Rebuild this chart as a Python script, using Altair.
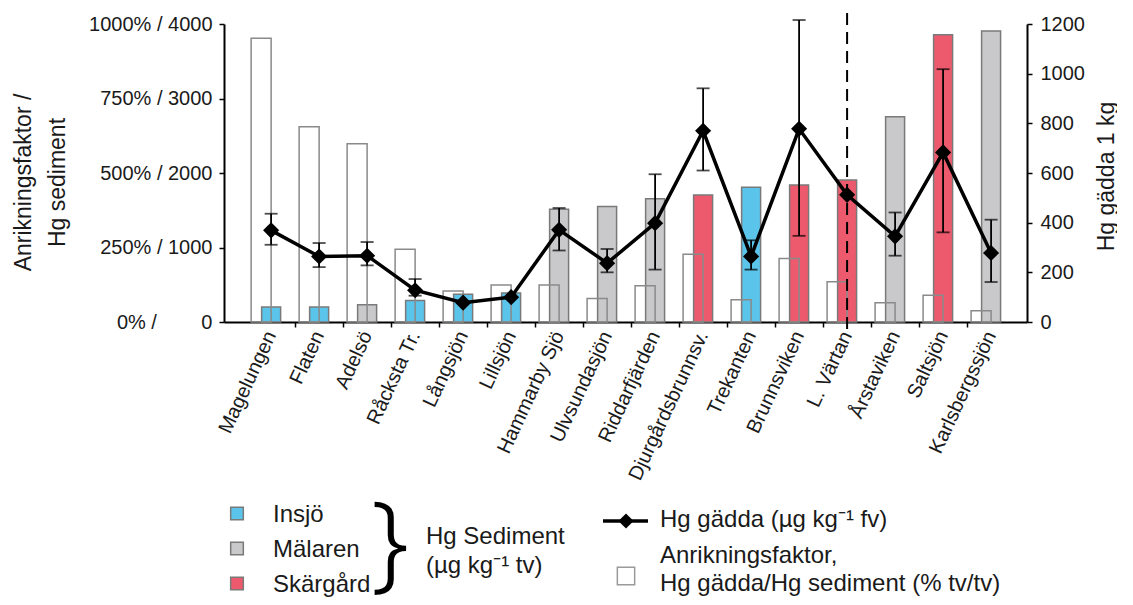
import altair as alt
import pandas as pd

# ---------------- data ----------------
sites = ["Magelungen", "Flaten", "Adelsö", "Råcksta Tr.", "Långsjön", "Lillsjön",
         "Hammarby Sjö", "Ulvsundasjön", "Riddarfjärden", "Djurgårdsbrunnsv.",
         "Trekanten", "Brunnsviken", "L. Värtan", "Årstaviken", "Saltsjön",
         "Karlsbergssjön"]
groups = ["Insjö", "Insjö", "Mälaren", "Insjö", "Insjö", "Insjö",
          "Mälaren", "Mälaren", "Mälaren", "Skärgård",
          "Insjö", "Skärgård", "Skärgård", "Mälaren", "Skärgård",
          "Mälaren"]
# Hg sediment (µg/kg tv), left axis 0-4000
sediment = [200, 200, 230, 288, 372, 390, 1515, 1550, 1655, 1705,
            1810, 1840, 1905, 2755, 3855, 3905]
# Anrikningsfaktor (%), left axis 0-1000 %
enrich_pct = [952, 655, 598, 244, 104, 124, 124, 79, 122, 227,
              75, 213, 135, 65, 90, 38]
# Hg gädda (µg/kg fv), right axis 0-1200
gadda = [369, 264, 267, 128, 78, 100, 371, 237, 398, 770,
         264, 778, 512, 345, 683, 278]
err_lo = [311, 221, 228, 106, None, None, 288, 200, 211, 610,
          211, 347, None, 267, 361, 161]
err_hi = [436, 318, 322, 173, None, None, 459, 294, 595, 941,
          329, 1216, None, 441, 1018, 412]

group_order = ["Insjö", "Mälaren", "Skärgård"]
group_colors = ["#5BC4EB", "#C9C9CB", "#EE5A6D"]

left_tick_values = [0, 1000, 2000, 3000, 4000]
left_tick_labels = ["0% /\u00a0\u00a0\u00a0\u00a0\u00a0\u00a0\u00a0\u00a00",
                    "250% / 1000", "500% / 2000", "750% / 3000", "1000% / 4000"]
right_tick_values = [0, 200, 400, 600, 800, 1000, 1200]
divider_site = "L. Värtan"

left_title = ["Anrikningsfaktor /", "Hg sediment"]
right_title = "Hg gädda 1 kg"
legend_group_title = ["Hg Sediment", "(µg kg\u207b\u00b9 tv)"]
legend_line_label = "Hg gädda (µg kg\u207b\u00b9 fv)"
legend_enrich_label = ["Anrikningsfaktor,", "Hg gädda/Hg sediment (% tv/tv)"]

df = pd.DataFrame({
    "site": sites, "group": groups, "sediment": sediment,
    "pct": enrich_pct, "gadda": gadda, "lo": err_lo, "hi": err_hi,
})

# ---------------- layout ----------------
W, H = 803, 298
FONT = "Liberation Sans"
TXT = "#1a1a1a"

label_expr = " : ".join(
    f"datum.value == {v} ? '{t}'" for v, t in zip(left_tick_values, left_tick_labels)
) + " : ''"

xscale = alt.Scale(domain=sites, paddingInner=0, paddingOuter=0.365, align=0.66)
xenc = alt.X("site:N", sort=sites, scale=xscale, title=None,
             axis=alt.Axis(labelAngle=295, labelAlign="right", labelBaseline="middle",
                           labelFontSize=20, labelPadding=5, tickSize=5,
                           bandPosition=0,
                           tickOpacity={"condition": {"test": f"datum.value == '{sites[0]}'", "value": 0}, "value": 1}))

yleft_scale = alt.Scale(domain=[0, 4000], nice=False, zero=True)

colored = alt.Chart(df).mark_bar(width=19, stroke="#7a7a7a", strokeWidth=1.5).encode(
    x=xenc,
    y=alt.Y("sediment:Q", scale=yleft_scale,
            axis=alt.Axis(values=left_tick_values, labelExpr=label_expr, labelFontSize=20,
                          labelPadding=7, tickSize=5, grid=False,
                          title=left_title, titleFontSize=23, titleFontWeight="normal",
                          titleLineHeight=34, titleAngle=270, titleBaseline="middle",
                          titleAlign="center", titleX=-201, titleY=158)),
    color=alt.Color("group:N", scale=alt.Scale(domain=group_order, range=group_colors), legend=None),
)

white = alt.Chart(df).transform_calculate(pct_scaled="datum.pct * 4").mark_bar(
    width=20, xOffset=-10, fill="white", fillOpacity=0, stroke="#8a8a8a", strokeWidth=1.5
).encode(
    x=alt.X("site:N", sort=sites, scale=xscale),
    y=alt.Y("pct_scaled:Q", scale=yleft_scale),
)

bars = alt.layer(colored, white)

yright_scale = alt.Scale(domain=[0, 1200], nice=False, zero=True)
yright_axis = alt.Axis(orient="right", values=right_tick_values, format="d", labelFontSize=20,
                       labelPadding=8, tickSize=5, grid=False,
                       title=right_title, titleFontSize=23, titleFontWeight="normal",
                       titleAngle=270, titleBaseline="middle", titleAlign="center",
                       titleX=79, titleY=152)

divider = alt.Chart(df).transform_filter(f"datum.site == '{divider_site}'").mark_rule(
    color="black", strokeWidth=2, strokeDash=[12, 7]
).encode(x=alt.X("site:N", sort=sites, scale=xscale), y=alt.value(-11), y2=alt.value(305))

err_base = alt.Chart(df).transform_filter("isValid(datum.lo)")
err_rule = err_base.mark_rule(color="black", strokeWidth=1.8).encode(
    x=alt.X("site:N", sort=sites, scale=xscale),
    y=alt.Y("lo:Q", scale=yright_scale, axis=yright_axis),
    y2="hi:Q",
)
cap_lo = err_base.mark_tick(color="black", thickness=1.8, size=13).encode(
    x=alt.X("site:N", sort=sites, scale=xscale), y=alt.Y("lo:Q", scale=yright_scale))
cap_hi = err_base.mark_tick(color="black", thickness=1.8, size=13).encode(
    x=alt.X("site:N", sort=sites, scale=xscale), y=alt.Y("hi:Q", scale=yright_scale))
line = alt.Chart(df).mark_line(color="black", strokeWidth=3.5).encode(
    x=alt.X("site:N", sort=sites, scale=xscale), y=alt.Y("gadda:Q", scale=yright_scale))
pts = alt.Chart(df).mark_point(shape="diamond", filled=True, size=260, color="black", opacity=1).encode(
    x=alt.X("site:N", sort=sites, scale=xscale), y=alt.Y("gadda:Q", scale=yright_scale))

right_layer = alt.layer(divider, err_rule, cap_lo, cap_hi, line, pts)

main = alt.layer(bars, right_layer).resolve_scale(y="independent")

# ---------------- custom legend ----------------
one = pd.DataFrame({"k": [0]})
legend_layers = []
sq_y = [489.5, 524.5, 559.5]
for g, c, yy in zip(group_order, group_colors, sq_y):
    legend_layers.append(alt.Chart(one).mark_square(size=160, fill=c, fillOpacity=1, stroke="#7a7a7a",
                                                    strokeWidth=1.5).encode(x=alt.value(13), y=alt.value(yy)))
    legend_layers.append(alt.Chart(one).mark_text(align="left", baseline="middle", fontSize=24, font=FONT,
                                                  color=TXT, text=g).encode(x=alt.value(49), y=alt.value(yy + 1)))
legend_layers.append(alt.Chart(one).mark_text(align="center", baseline="middle", fontSize=106,
                                              font="Noto Sans", fontWeight=300,
                                              color="black", text="}").encode(x=alt.value(166), y=alt.value(522)))
legend_layers.append(alt.Chart(one).mark_text(align="left", baseline="middle", fontSize=24, font=FONT,
                                              color=TXT, lineHeight=29, text=legend_group_title).encode(
    x=alt.value(202), y=alt.value(513)))
legend_layers.append(alt.Chart(one).mark_rule(color="black", strokeWidth=3.5).encode(
    x=alt.value(379), x2=alt.value(424), y=alt.value(497)))
legend_layers.append(alt.Chart(one).mark_point(shape="diamond", filled=True, size=230, color="black",
                                               opacity=1).encode(x=alt.value(402), y=alt.value(497)))
legend_layers.append(alt.Chart(one).mark_text(align="left", baseline="middle", fontSize=24, font=FONT,
                                              color=TXT, text=legend_line_label).encode(
    x=alt.value(436), y=alt.value(496)))
legend_layers.append(alt.Chart(one).mark_square(size=300, fill="white", fillOpacity=0, stroke="#9a9a9a",
                                                strokeWidth=1.5).encode(x=alt.value(402), y=alt.value(552)))
legend_layers.append(alt.Chart(one).mark_text(align="left", baseline="middle", fontSize=24, font=FONT,
                                              color=TXT, lineHeight=28, text=legend_enrich_label).encode(
    x=alt.value(436), y=alt.value(532)))

chart = alt.layer(main, *legend_layers).properties(
    width=W, height=H,
    autosize=alt.AutoSizeParams(type="none"),
    padding={"left": 216, "top": 16, "right": 90, "bottom": 275},
).configure_view(stroke=None).configure_axis(
    labelFont=FONT, titleFont=FONT, labelColor=TXT, titleColor=TXT,
    domainColor="black", domainWidth=2, tickColor="black", tickWidth=1.5,
)

chart.save("out.html", embed_options={"renderer": "svg", "actions": False})
